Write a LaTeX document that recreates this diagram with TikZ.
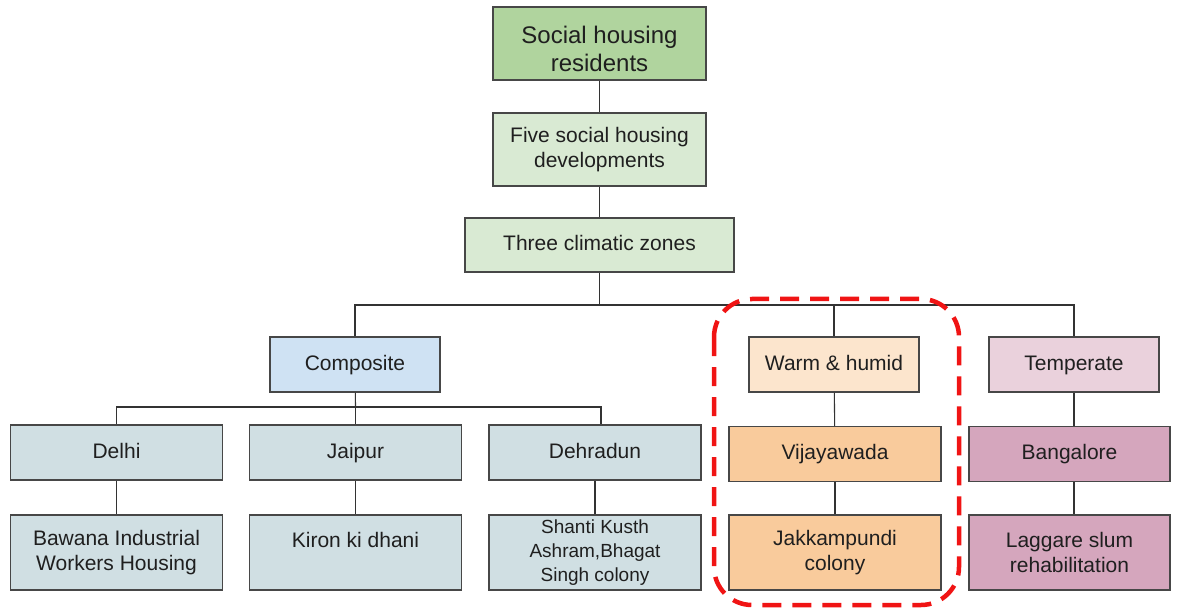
\documentclass[tikz,border=0pt]{standalone}
\usepackage{fontspec}
\setmainfont{Liberation Sans}
\usepackage{tikz}
\definecolor{rootgreen}{HTML}{B0D49E}
\definecolor{palegreen}{HTML}{D9EAD3}
\definecolor{paleblue}{HTML}{CFE2F3}
\definecolor{cityblue}{HTML}{D0DFE3}
\definecolor{palepeach}{HTML}{FCE5CD}
\definecolor{peach}{HTML}{F9CB9C}
\definecolor{palemauve}{HTML}{EAD1DC}
\definecolor{mauve}{HTML}{D5A6BD}
\definecolor{zoneRed}{HTML}{F01414}
\newcommand{\boxFont}[2]{\fontsize{#1}{#2}\selectfont}

\begin{document}
\begin{tikzpicture}[x=1pt, y=-1pt]
  \tikzset{box/.style={draw=black!72, line width=1.1pt, align=center, inner sep=0pt,
                       text=black!88, font=\boxFont{21}{25}, minimum width=170pt, minimum height=55pt},
           oneline/.style={text height=15pt, text depth=4pt},
           wide/.style={minimum width=212pt},
           tall/.style={minimum height=75pt},
           link/.style={draw=black!80, line width=1.1pt}}
  \useasboundingbox (0,0) rectangle (1177,609);
  % top of the tree
  \node[box, fill=rootgreen, minimum width=213pt, minimum height=73pt, font=\boxFont{24}{28}]
    (root) at (599.5,43.5) {\rule{0pt}{28pt}Social housing\\residents};
  \node[box, fill=palegreen, minimum width=213pt, minimum height=73pt]
    (five) at (599.5,149.5) {Five social housing\\developments};
  \node[box, oneline, fill=palegreen, minimum width=269pt, minimum height=54pt]
    (zones) at (599.5,245) {Three climatic zones};
  % climatic zones
  \node[box, oneline, fill=paleblue] (composite) at (355,364.5) {Composite};
  \node[box, oneline, fill=palepeach] (warm) at (834,364.5) {Warm \& humid};
  \node[box, oneline, fill=palemauve] (temperate) at (1074,364.5) {Temperate};
  % cities
  \node[box, oneline, wide, fill=cityblue] (delhi) at (116.5,452.5) {Delhi};
  \node[box, oneline, wide, fill=cityblue] (jaipur) at (355.5,452.5) {Jaipur};
  \node[box, oneline, wide, fill=cityblue] (dehradun) at (595,452.5) {Dehradun};
  \node[box, oneline, wide, fill=peach] (vijayawada) at (835,454) {Vijayawada};
  \node[box, oneline, fill=mauve, minimum width=201pt] (bangalore) at (1069.5,454) {Bangalore};
  % developments
  \node[box, wide, tall, fill=cityblue] (bawana) at (116.5,552.5) {Bawana Industrial\\Workers Housing};
  \node[box, wide, tall, fill=cityblue] (kiron) at (355.5,552.5) {Kiron ki dhani\\\mbox{}};
  \node[box, wide, tall, fill=cityblue, font=\boxFont{19}{24}] (shanti) at (595,552.5) {Shanti Kusth\\Ashram,Bhagat\\Singh colony};
  \node[box, wide, tall, fill=peach] (jakkampundi) at (835,552.5) {Jakkampundi\\colony};
  \node[box, tall, fill=mauve, minimum width=201pt] (laggare) at (1069.5,552.5) {Laggare slum\\rehabilitation};
  % connectors
  \coordinate (zoneBar) at (599.5,305);
  \coordinate (cityBar) at (355.5,407);
  \draw[link] (root) -- (five);
  \draw[link] (five) -- (zones);
  \draw[link] (zones) -- (zoneBar);
  \draw[link] (composite.north) |- (zoneBar) -| (temperate.north);
  \draw[link] (warm.north) -- (warm.north |- zoneBar);
  \draw[link] (composite) -- (cityBar);
  \draw[link] (delhi.north) |- (cityBar) -| ([xshift=6pt]dehradun.north);
  \draw[link] (jaipur) -- (cityBar);
  \draw[link] (delhi) -- (bawana);
  \draw[link] (jaipur) -- (kiron);
  \draw[link] (dehradun) -- (shanti);
  \draw[link] (warm) -- (vijayawada);
  \draw[link] (vijayawada) -- (jakkampundi);
  \draw[link] (temperate.south) -- (temperate.south |- bangalore.north);
  \draw[link] (bangalore.south -| temperate.south) -- (laggare.north -| temperate.south);
  % highlighted zone
  \draw[zoneRed, line width=4.5pt, dash pattern=on 19pt off 11pt, rounded corners=38pt]
    (714,299) rectangle (959,605);
\end{tikzpicture}
\end{document}
